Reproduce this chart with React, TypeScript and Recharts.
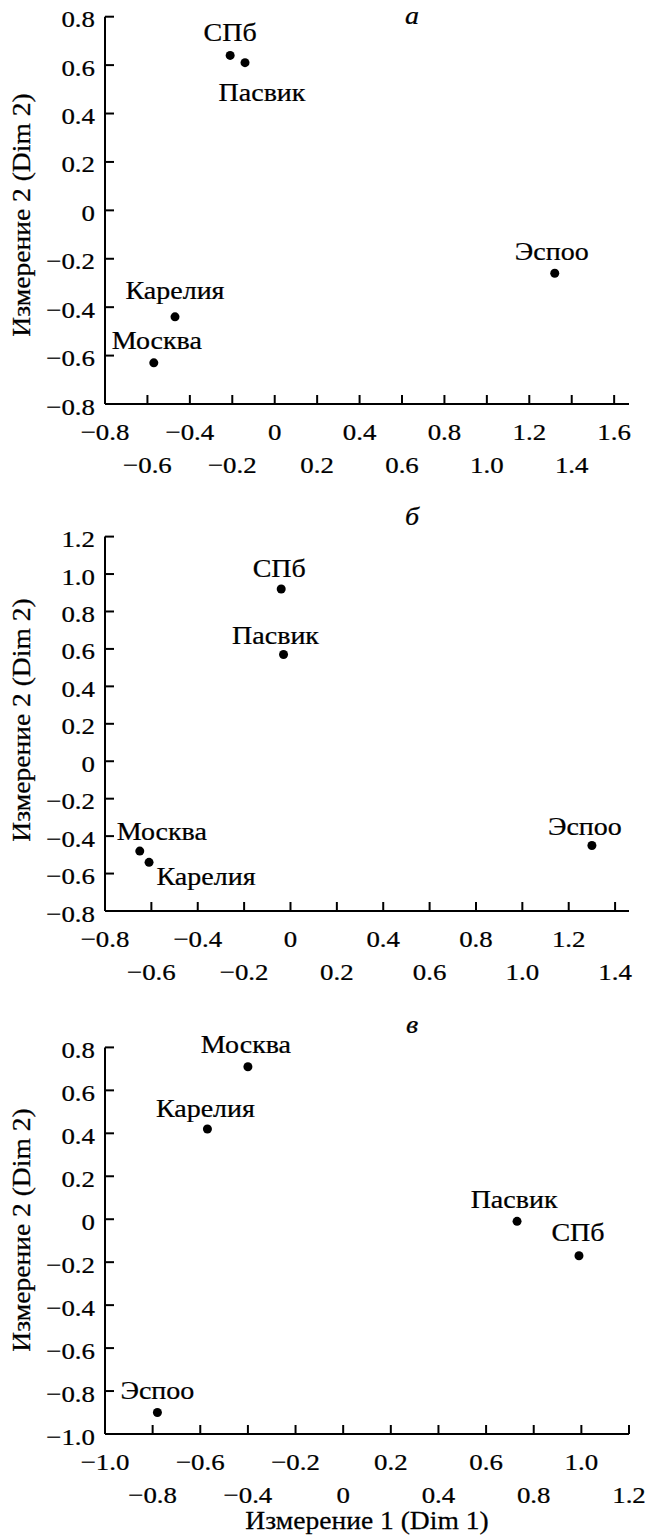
import React from 'react';
import { ScatterChart, Scatter, XAxis, YAxis } from 'recharts';

const FONT = '"Liberation Serif", "Times New Roman", serif';

// city order is the same for every panel
const cities = ['СПб', 'Пасвик', 'Эспоо', 'Карелия', 'Москва'];

// panel а
const dim1A = [-0.21, -0.14, 1.32, -0.47, -0.57];
const dim2A = [0.64, 0.61, -0.26, -0.44, -0.63];
// panel б
const dim1B = [-0.04, -0.03, 1.3, -0.61, -0.65];
const dim2B = [0.92, 0.57, -0.45, -0.54, -0.48];
// panel в
const dim1C = [0.99, 0.73, -0.78, -0.57, -0.4];
const dim2C = [-0.17, -0.01, -0.9, 0.42, 0.71];

const xTicksA = [-0.8, -0.6, -0.4, -0.2, 0, 0.2, 0.4, 0.6, 0.8, 1.0, 1.2, 1.4, 1.6];
const yTicksA = [-0.8, -0.6, -0.4, -0.2, 0, 0.2, 0.4, 0.6, 0.8];
const xTicksB = [-0.8, -0.6, -0.4, -0.2, 0, 0.2, 0.4, 0.6, 0.8, 1.0, 1.2, 1.4];
const yTicksB = [-0.8, -0.6, -0.4, -0.2, 0, 0.2, 0.4, 0.6, 0.8, 1.0, 1.2];
const xTicksC = [-1.0, -0.8, -0.6, -0.4, -0.2, 0, 0.2, 0.4, 0.6, 0.8, 1.0, 1.2];
const yTicksC = [-1.0, -0.8, -0.6, -0.4, -0.2, 0, 0.2, 0.4, 0.6, 0.8];

// where each city name sits relative to its dot (px)
const labelPosA: Record<string, number[]> = {
  'СПб': [0, -23], 'Пасвик': [17, 30], 'Эспоо': [-3, -22], 'Карелия': [0, -26], 'Москва': [3, -22],
};
const labelPosB: Record<string, number[]> = {
  'СПб': [-2, -21], 'Пасвик': [-8, -19], 'Эспоо': [-7, -19], 'Карелия': [57, 14], 'Москва': [22, -20],
};
const labelPosC: Record<string, number[]> = {
  'СПб': [-1, -23], 'Пасвик': [-3, -22], 'Эспоо': [0, -22], 'Карелия': [-2, -21], 'Москва': [-2, -22],
};

const toPoints = (d1: number[], d2: number[]) =>
  cities.map((name, i) => ({ name, x: d1[i], y: d2[i] }));

const fmt = (v: number) => (v === 0 ? '0' : (v < 0 ? '\u2212' : '') + Math.abs(v).toFixed(1));

// the printed figure uses a slightly wide serif face, so text is stretched a little
function SText(props: {
  x: number; y: number; size: number; sx?: number; anchor?: string; italic?: boolean; rotate?: number; children: any;
}) {
  const { x, y, size, sx = 1.12, anchor = 'middle', italic, rotate, children } = props;
  const tf = `translate(${x},${y})${rotate ? ` rotate(${rotate})` : ''} scale(${sx},1)`;
  return (
    <text
      x={0}
      y={0}
      transform={tf}
      textAnchor={anchor as any}
      fill="#000"
      stroke="#000"
      strokeWidth={0.25}
      style={{ fontFamily: FONT, fontSize: size, fontStyle: italic ? 'italic' : 'normal' }}
    >
      {children}
    </text>
  );
}

const XTick = (props: any) => {
  const { x, y, payload, index } = props;
  return <SText x={x} y={y + (index % 2 ? 33 : 0)} size={24}>{fmt(payload.value)}</SText>;
};

const YTick = (props: any) => {
  const { x, y, payload } = props;
  return <SText x={x} y={y + 10.5} size={24} anchor="end">{fmt(payload.value)}</SText>;
};

const makeShape = (pos: Record<string, number[]>) => (props: any) => {
  const { cx, cy, payload } = props;
  const [dx, dy] = pos[payload.name];
  return (
    <g>
      <circle cx={cx} cy={cy} r={4.5} fill="#000" />
      <SText x={cx + dx} y={cy + dy + 8.5} size={25}>{payload.name}</SText>
    </g>
  );
};

interface PanelProps {
  letter: string;
  data: { name: string; x: number; y: number }[];
  xTicks: number[];
  yTicks: number[];
  xDomain: number[];
  yDomain: number[];
  top: number;
  height: number;
  marginTop: number;
  axisHeight: number;
  titleY: number;
  letterY: number;
  labels: Record<string, number[]>;
  xTitle?: boolean;
}

function Panel(p: PanelProps) {
  const axisStyle = { stroke: '#000', strokeWidth: 2 };
  return (
    <div style={{ position: 'absolute', left: 0, top: p.top, width: 646, height: p.height }}>
      <ScatterChart width={646} height={p.height} margin={{ top: p.marginTop, right: 17, bottom: 0, left: 0 }}>
        <XAxis
          type="number"
          dataKey="x"
          domain={p.xDomain}
          ticks={p.xTicks}
          interval={0}
          height={p.axisHeight}
          tickSize={-9}
          tickMargin={45}
          axisLine={axisStyle}
          tickLine={axisStyle}
          tick={<XTick />}
          label={
            p.xTitle
              ? {
                  content: (lp: any) => {
                    const vb = lp.viewBox;
                    return (
                      <SText x={vb.x + vb.width / 2} y={vb.y + 95} size={26} sx={1.06}>
                        Измерение 1 (Dim 1)
                      </SText>
                    );
                  },
                }
              : undefined
          }
        />
        <YAxis
          type="number"
          dataKey="y"
          domain={p.yDomain}
          ticks={p.yTicks}
          interval={0}
          width={105}
          tickSize={-9}
          tickMargin={19}
          axisLine={axisStyle}
          tickLine={axisStyle}
          tick={<YTick />}
        />
        <Scatter data={p.data} fill="#000" shape={makeShape(p.labels)} isAnimationActive={false} />
      </ScatterChart>
      <svg width={646} height={p.height} style={{ position: 'absolute', left: 0, top: 0, pointerEvents: 'none' }}>
        <SText x={412} y={p.letterY} size={25} italic>{p.letter}</SText>
        <SText x={30} y={p.titleY} size={26} sx={1.06} rotate={-90}>Измерение 2 (Dim 2)</SText>
      </svg>
    </div>
  );
}

export default function App() {
  return (
    <div style={{ position: 'relative', width: 646, height: 1536, background: '#fff' }}>
      <style>{'body{margin:0}'}</style>
      <Panel
        letter="а"
        data={toPoints(dim1A, dim2A)}
        xTicks={xTicksA}
        yTicks={yTicksA}
        xDomain={[-0.8, 1.67]}
        yDomain={[-0.8, 0.8]}
        top={0}
        height={484}
        marginTop={16.7}
        axisHeight={80}
        titleY={215}
        letterY={24}
        labels={labelPosA}
      />
      <Panel
        letter="б"
        data={toPoints(dim1B, dim2B)}
        xTicks={xTicksB}
        yTicks={yTicksB}
        xDomain={[-0.8, 1.46]}
        yDomain={[-0.8, 1.2]}
        top={484}
        height={507}
        marginTop={52.6}
        axisHeight={80}
        titleY={236}
        letterY={41}
        labels={labelPosB}
      />
      <Panel
        letter="в"
        data={toPoints(dim1C, dim2C)}
        xTicks={xTicksC}
        yTicks={yTicksC}
        xDomain={[-1.0, 1.2]}
        yDomain={[-1.0, 0.8]}
        top={991}
        height={545}
        marginTop={56.4}
        axisHeight={102}
        titleY={239}
        letterY={42}
        labels={labelPosC}
        xTitle
      />
    </div>
  );
}
